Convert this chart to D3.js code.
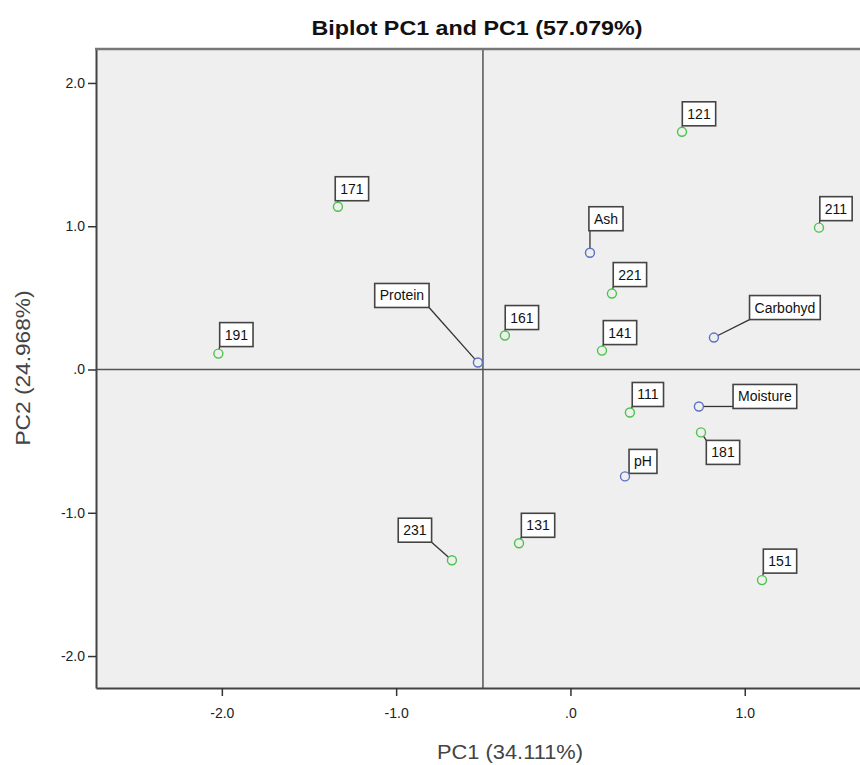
<!DOCTYPE html>
<html>
<head>
<meta charset="utf-8">
<script src="https://d3js.org/d3.v7.min.js"></script>
<style>
  body { margin: 0; background: #fff; }
  text { font-family: Arial, "Liberation Sans", sans-serif; }
</style>
</head>
<body>
<svg width="860" height="765"></svg>
<script>
// ---------------- data ----------------
const obsNames = ["121", "171", "211", "221", "161", "141", "191", "111", "181", "131", "231", "151"];
const obsPC1   = [0.640, -1.334, 1.426, 0.238, -0.376, 0.181, -2.020, 0.341, 0.749, -0.295, -0.680, 1.099];
const obsPC2   = [1.659, 1.136, 0.990, 0.530, 0.237, 0.132, 0.111, -0.300, -0.439, -1.213, -1.331, -1.470];

const varNames = ["Ash", "Protein", "Carbohyd", "Moisture", "pH"];
const varPC1   = [0.112, -0.531, 0.823, 0.737, 0.313];
const varPC2   = [0.815, 0.049, 0.223, -0.258, -0.746];

const xTicks = [-2, -1, 0, 1];
const yTicks = [-2, -1, 0, 1, 2];
const refX = -0.502, refY = 0;

// label box offsets from its point (layout only)
const labelOffset = {
  "121": [17, -18], "171": [14, -18], "211": [17, -19], "221": [18, -19],
  "161": [17, -18], "141": [18, -18], "191": [18, -19], "111": [18, -18],
  "181": [22, 20], "131": [19, -18], "231": [-37, -30], "151": [18, -19],
  "Ash": [16, -34], "Protein": [-76, -67], "Carbohyd": [71, -30],
  "Moisture": [66, -10], "pH": [18, -15]
};

// ---------------- layout ----------------
const svg = d3.select("svg");
const pLeft = 96, pTop = 49, pRight = 861, pBottom = 688;

const x = d3.scaleLinear().domain([-2.722, 1.667]).range([pLeft, pRight]);
const y = d3.scaleLinear().domain([-2.223, 2.237]).range([pBottom, pTop]);

svg.append("rect")
  .attr("x", pLeft).attr("y", pTop)
  .attr("width", pRight - pLeft).attr("height", pBottom - pTop)
  .attr("fill", "#efefef");

// reference lines
svg.append("line")
  .attr("x1", x(refX)).attr("x2", x(refX)).attr("y1", pTop).attr("y2", pBottom)
  .attr("stroke", "#555").attr("stroke-width", 1.5);
svg.append("line")
  .attr("x1", pLeft).attr("x2", pRight).attr("y1", y(refY)).attr("y2", y(refY))
  .attr("stroke", "#555").attr("stroke-width", 1.5);

// axes
const fmt = d => d === 0 ? ".0" : d.toFixed(1);
const xAxis = svg.append("g")
  .attr("transform", "translate(0," + pBottom + ")")
  .call(d3.axisBottom(x).tickValues(xTicks).tickFormat(fmt).tickSize(8).tickSizeOuter(0));
const yAxis = svg.append("g")
  .attr("transform", "translate(" + pLeft + ",0)")
  .call(d3.axisLeft(y).tickValues(yTicks).tickFormat(fmt).tickSize(8).tickSizeOuter(0));

[xAxis, yAxis].forEach(a => {
  a.select(".domain").attr("stroke", "#444").attr("stroke-width", 2);
  a.selectAll(".tick line").attr("stroke", "#333").attr("stroke-width", 1.5);
  a.selectAll(".tick text").attr("fill", "#222")
    .style("font-size", "14px").style("font-family", "Arial, 'Liberation Sans', sans-serif");
});
xAxis.selectAll(".tick text").attr("y", 12).attr("dy", "1.3em");
yAxis.selectAll(".tick text").attr("x", -11);

// top border
svg.append("line")
  .attr("x1", pLeft - 1).attr("x2", pRight).attr("y1", pTop).attr("y2", pTop)
  .attr("stroke", "#777").attr("stroke-width", 2.5);

// titles
svg.append("text")
  .attr("x", 477).attr("y", 35)
  .attr("text-anchor", "middle")
  .style("font-size", "21px").style("font-weight", "bold").attr("fill", "#111")
  .attr("textLength", 331).attr("lengthAdjust", "spacingAndGlyphs")
  .text("Biplot PC1 and PC1 (57.079%)");
svg.append("text")
  .attr("x", 510).attr("y", 759)
  .attr("text-anchor", "middle")
  .style("font-size", "20px").attr("fill", "#444")
  .attr("textLength", 146).attr("lengthAdjust", "spacingAndGlyphs")
  .text("PC1 (34.111%)");
svg.append("text")
  .attr("transform", "translate(30,368) rotate(-90)")
  .attr("text-anchor", "middle")
  .style("font-size", "20px").attr("fill", "#444")
  .attr("textLength", 155).attr("lengthAdjust", "spacingAndGlyphs")
  .text("PC2 (24.968%)");

// ---------------- points & labels ----------------
const points = obsNames.map((n, i) => ({ name: n, pc1: obsPC1[i], pc2: obsPC2[i], color: "#4cc44c" }))
  .concat(varNames.map((n, i) => ({ name: n, pc1: varPC1[i], pc2: varPC2[i], color: "#5a72c4" })));

const lab = svg.append("g");
points.forEach(d => {
  const px = x(d.pc1), py = y(d.pc2);
  const off = labelOffset[d.name];
  const cx = px + off[0], cy = py + off[1];
  const t = lab.append("text")
    .attr("x", cx).attr("y", cy)
    .attr("text-anchor", "middle").attr("dominant-baseline", "central")
    .style("font-size", "14px").attr("fill", "#111")
    .text(d.name);
  const w = t.node().getComputedTextLength() + 10, h = 24;
  const bx = cx - w / 2, by = cy - h / 2;
  // leader line from box edge to point
  const lx = Math.max(bx, Math.min(px, bx + w));
  const ly = Math.max(by, Math.min(py, by + h));
  const dx = px - lx, dy = py - ly, len = Math.hypot(dx, dy);
  if (len > 4.5) {
    lab.insert("line", "text")
      .attr("x1", lx).attr("y1", ly)
      .attr("x2", px - dx / len * 4.5).attr("y2", py - dy / len * 4.5)
      .attr("stroke", "#333").attr("stroke-width", 1.3);
  }
  lab.insert("rect", "text")
    .attr("x", bx).attr("y", by).attr("width", w).attr("height", h)
    .attr("fill", "#fff").attr("stroke", "#444").attr("stroke-width", 1.6);
  svg.append("circle")
    .attr("cx", px).attr("cy", py).attr("r", 4.5)
    .attr("fill", "none").attr("stroke", d.color).attr("stroke-width", 1.4);
});
</script>
</body>
</html>
